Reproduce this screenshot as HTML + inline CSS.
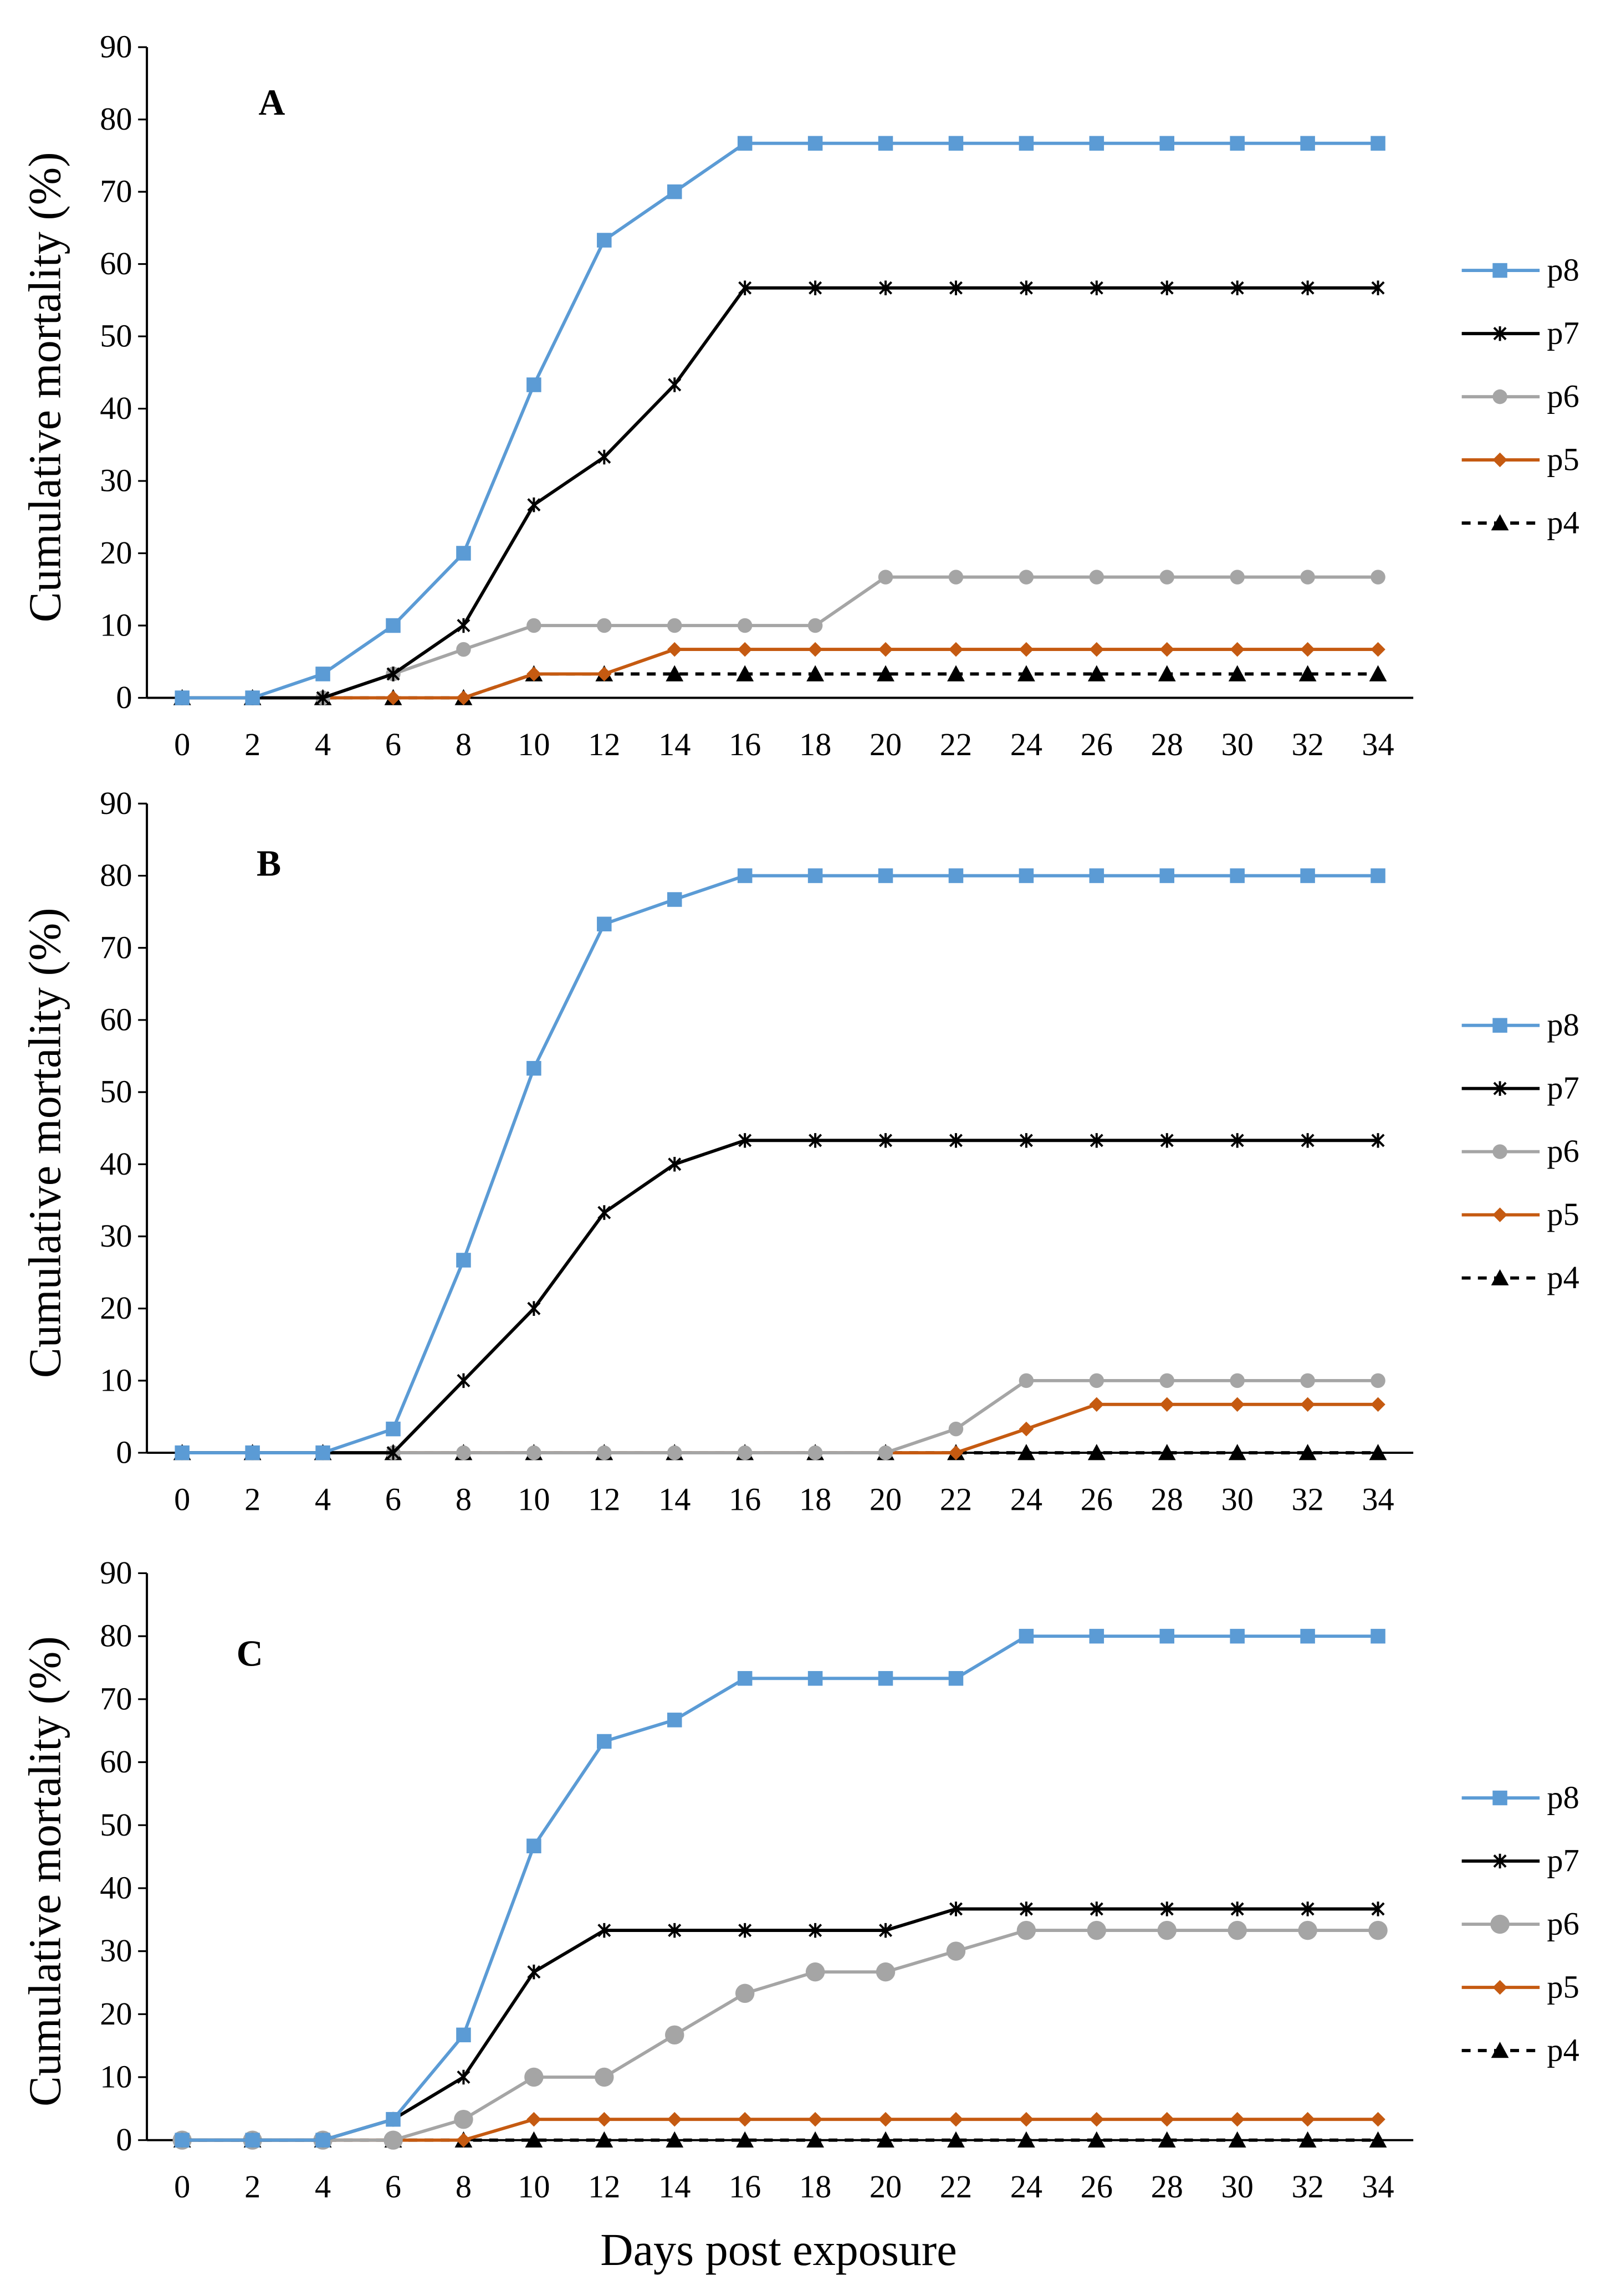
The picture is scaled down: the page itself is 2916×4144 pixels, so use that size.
<!DOCTYPE html>
<html><head><meta charset="utf-8">
<style>html,body{margin:0;padding:0;background:#fff}svg{display:block}</style>
</head><body>
<svg id="chart" xmlns="http://www.w3.org/2000/svg" width="2916" height="4144" viewBox="0 0 1100 1563" font-family="'Liberation Serif', serif">
<text x="530" y="1542" font-size="31" text-anchor="middle">Days post exposure</text>
</svg>
<script>
const days = [0,2,4,6,8,10,12,14,16,18,20,22,24,26,28,30,32,34];
const yTicks = [0,10,20,30,40,50,60,70,80,90];
const seriesNames = ['p8','p7','p6','p5','p4'];
const panelLabels = ['A','B','C'];
const a_p8 = [0,0,3.3,10,20,43.3,63.3,70,76.7,76.7,76.7,76.7,76.7,76.7,76.7,76.7,76.7,76.7];
const a_p7 = [0,0,0,3.3,10,26.7,33.3,43.3,56.7,56.7,56.7,56.7,56.7,56.7,56.7,56.7,56.7,56.7];
const a_p6 = [0,0,0,3.3,6.7,10,10,10,10,10,16.7,16.7,16.7,16.7,16.7,16.7,16.7,16.7];
const a_p5 = [0,0,0,0,0,3.3,3.3,6.7,6.7,6.7,6.7,6.7,6.7,6.7,6.7,6.7,6.7,6.7];
const a_p4 = [0,0,0,0,0,3.3,3.3,3.3,3.3,3.3,3.3,3.3,3.3,3.3,3.3,3.3,3.3,3.3];
const b_p8 = [0,0,0,3.3,26.7,53.3,73.3,76.7,80,80,80,80,80,80,80,80,80,80];
const b_p7 = [0,0,0,0,10,20,33.3,40,43.3,43.3,43.3,43.3,43.3,43.3,43.3,43.3,43.3,43.3];
const b_p6 = [0,0,0,0,0,0,0,0,0,0,0,3.3,10,10,10,10,10,10];
const b_p5 = [0,0,0,0,0,0,0,0,0,0,0,0,3.3,6.7,6.7,6.7,6.7,6.7];
const b_p4 = [0,0,0,0,0,0,0,0,0,0,0,0,0,0,0,0,0,0];
const c_p8 = [0,0,0,3.3,16.7,46.7,63.3,66.7,73.3,73.3,73.3,73.3,80,80,80,80,80,80];
const c_p7 = [0,0,0,3.3,10,26.7,33.3,33.3,33.3,33.3,33.3,36.7,36.7,36.7,36.7,36.7,36.7,36.7];
const c_p6 = [0,0,0,0,3.3,10,10,16.7,23.3,26.7,26.7,30,33.3,33.3,33.3,33.3,33.3,33.3];
const c_p5 = [0,0,0,0,0,3.3,3.3,3.3,3.3,3.3,3.3,3.3,3.3,3.3,3.3,3.3,3.3,3.3];
const c_p4 = [0,0,0,0,0,0,0,0,0,0,0,0,0,0,0,0,0,0];

const NS='http://www.w3.org/2000/svg';
const svg=document.getElementById('chart');
function mk(tag,attrs,parent){const e=document.createElementNS(NS,tag);for(const k in attrs)e.setAttribute(k,attrs[k]);(parent||svg).appendChild(e);return e;}
const styles={
 p8:{color:'#5B9BD5',marker:'square',dash:''},
 p7:{color:'#000',marker:'star',dash:''},
 p6:{color:'#A5A5A5',marker:'circle',dash:''},
 p5:{color:'#C55A11',marker:'diamond',dash:''},
 p4:{color:'#000',marker:'triangle',dash:'6,5'}
};
function marker(g,type,x,y,color,big){
 let m;
 if(type==='square') m=mk('rect',{x:x-5,y:y-5,width:10,height:10,fill:color},g);
 else if(type==='circle'){const r=big?6.5:5; m=mk('circle',{cx:x,cy:y,r:r,fill:color},g);}
 else if(type==='diamond') m=mk('polygon',{points:`${x},${y-5} ${x+5},${y} ${x},${y+5} ${x-5},${y}`,fill:color},g);
 else if(type==='triangle') m=mk('polygon',{points:`${x},${y-6} ${x+6},${y+5} ${x-6},${y+5}`,fill:color},g);
 else { m=mk('path',{d:`M${x-4},${y-4}L${x+4},${y+4}M${x-4},${y+4}L${x+4},${y-4}M${x},${y-5}L${x},${y+5}`,stroke:color,'stroke-width':1.5,fill:'none'},g);}
 return m;
}
const panels=[
 {top:32,bottom:475,label:'A',lx:185,ly:78,legY:184,data:[a_p8,a_p7,a_p6,a_p5,a_p4],big:false},
 {top:547,bottom:989,label:'B',lx:183,ly:596,legY:698,data:[b_p8,b_p7,b_p6,b_p5,b_p4],big:false},
 {top:1071,bottom:1457,label:'C',lx:170,ly:1134,legY:1224,data:[c_p8,c_p7,c_p6,c_p5,c_p4],big:true}
];
const x0=124,x1=938,axL=100,axR=962;
panels.forEach((p,pi)=>{
 const g=mk('g',{});
 
 
 const xs=d=>x0+(d-days[0])/(days[days.length-1]-days[0])*(x1-x0);
 const ys=v=>p.bottom-v/90*(p.bottom-p.top);
 const ya=mk('line',{x1:axL,y1:p.top,x2:axL,y2:p.bottom,stroke:'#000','stroke-width':1.5},g);
  
 const xa=mk('line',{x1:axL,y1:p.bottom,x2:axR,y2:p.bottom,stroke:'#000','stroke-width':1.5},g);
  
 yTicks.forEach(t=>{
  mk('line',{x1:axL-6,y1:ys(t),x2:axL,y2:ys(t),stroke:'#000','stroke-width':1.2},g);
  const tl=mk('text',{x:axL-10,y:ys(t)+7,'font-size':22,'text-anchor':'end'},g);
  tl.textContent=t;
   
 });
 days.forEach(d=>{
  const tl=mk('text',{x:xs(d),y:p.bottom+39,'font-size':22,'text-anchor':'middle'},g);
  tl.textContent=d;
   
 });
 const yt=mk('text',{x:0,y:0,'font-size':31,'text-anchor':'middle',transform:`translate(41,${(p.top+p.bottom)/2+10}) rotate(-90)`},g);
 yt.textContent='Cumulative mortality (%)';
  
 const pl=mk('text',{x:p.lx,y:p.ly,'font-size':25,'font-weight':'bold','text-anchor':'middle'},g);
 pl.textContent=p.label;
  
 for(let si=seriesNames.length-1;si>=0;si--){
  const name=seriesNames[si],st=styles[name],vals=p.data[si];
  const sg=mk('g',{},g);
   
  const pts=vals.map((v,i)=>xs(days[i])+','+ys(v)).join(' ');
  const pl2=mk('polyline',{points:pts,fill:'none',stroke:st.color,'stroke-width':2.2,'stroke-dasharray':st.dash},sg);
   
  vals.forEach((v,i)=>{
   const m=marker(sg,st.marker,xs(days[i]),ys(v),st.color,p.big&&name==='p6');
    
  });
 }
 seriesNames.forEach((name,i)=>{
  const st=styles[name],ly=p.legY+i*43;
  const lg=mk('g',{},g);
   
  mk('line',{x1:995,y1:ly,x2:1048,y2:ly,stroke:st.color,'stroke-width':2.2,'stroke-dasharray':st.dash},lg);
  marker(lg,st.marker,1021,ly,st.color,p.big&&name==='p6');
  const t=mk('text',{x:1053,y:ly+7,'font-size':22},lg);
  t.textContent=name;
 });
});
</script>
</body></html>
